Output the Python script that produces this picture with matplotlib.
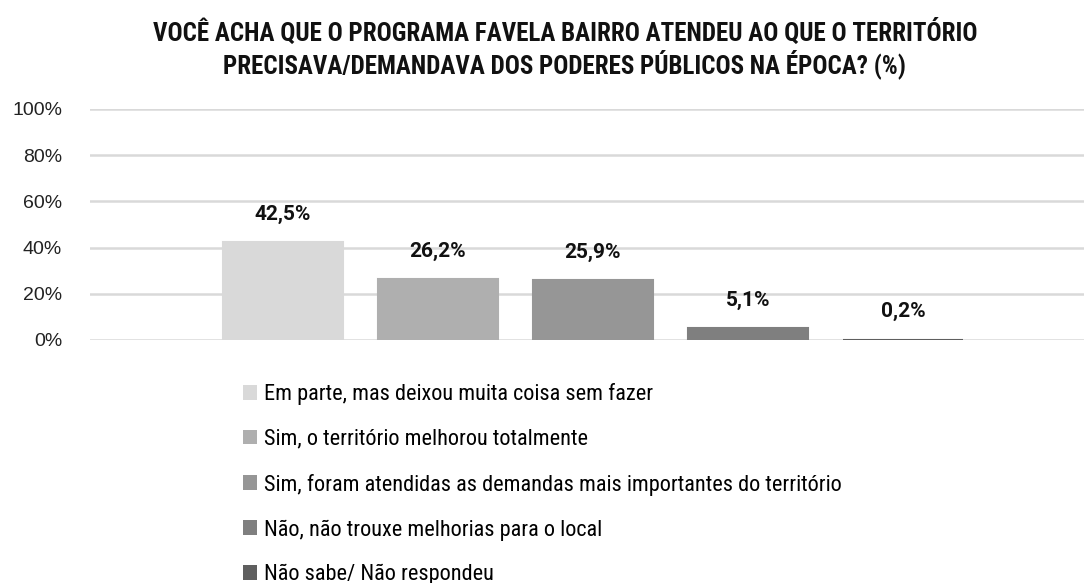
import matplotlib
matplotlib.use("Agg")
import matplotlib.pyplot as plt
from matplotlib import font_manager
from matplotlib.patches import Patch

# dados
categorias = [
    "Em parte, mas deixou muita coisa sem fazer",
    "Sim, o território melhorou totalmente",
    "Sim, foram atendidas as demandas mais importantes do território",
    "Não, não trouxe melhorias para o local",
    "Não sabe/ Não respondeu",
]
valores = [42.5, 26.2, 25.9, 5.1, 0.2]
rotulos = ["42,5%", "26,2%", "25,9%", "5,1%", "0,2%"]
yticks = [0, 20, 40, 60, 80, 100]
cores = ["#d9d9d9", "#afafaf", "#969696", "#7f7f7f", "#5f5f5f"]

titulo = ("VOCÊ ACHA QUE O PROGRAMA FAVELA BAIRRO ATENDEU AO QUE O TERRITÓRIO\n"
          "PRECISAVA/DEMANDAVA DOS PODERES PÚBLICOS NA ÉPOCA? (%)")

disp = {f.name for f in font_manager.fontManager.ttflist}
def escolhe(nomes):
    for n in nomes:
        if n in disp:
            return n
    return "DejaVu Sans"

estreita = escolhe(["Liberation Sans Narrow", "Roboto Condensed", "Arial Narrow", "Roboto"])
normal = escolhe(["Liberation Sans", "Arial", "Roboto"])
plt.rcParams["font.family"] = [estreita, "DejaVu Sans"]

fig = plt.figure(figsize=(10.84, 5.83), dpi=100)
ax = fig.add_axes([90 / 1084, 1 - 340 / 583, (1084 - 90) / 1084, 231 / 583])

x = list(range(len(valores)))
ax.bar(x, valores, width=0.78, color=cores, edgecolor=cores, linewidth=1.5, zorder=3)
for xi, v, r in zip(x, valores, rotulos):
    ax.annotate(r, (xi, v), xytext=(0, 13), textcoords="offset points",
                ha="center", va="bottom", fontsize=15, fontweight="bold",
                color="#111111", family=["Roboto", "DejaVu Sans"])

ax.set_xlim(-1.245, 5.168)
ax.set_ylim(0, 100)
ax.set_yticks(yticks)
ax.set_yticklabels([f"{t}%" for t in yticks], fontsize=14, color="#222222",
                   family=[normal, "DejaVu Sans"])
ax.set_xticks([])
ax.yaxis.grid(True, color="#d9d9d9", linewidth=1.8)
ax.set_axisbelow(True)
ax.tick_params(axis="y", length=0, pad=20)
for s in ax.spines.values():
    s.set_visible(False)

fig.text(0.521, 1 - 49 / 583, titulo, ha="center", va="center", fontsize=18,
         fontweight="bold", linespacing=1.15, color="#111111")

handles = [Patch(facecolor=c, edgecolor="none") for c in cores]
fig.legend(handles, categorias, loc="upper left", bbox_to_anchor=(243 / 1084, 1 - 383 / 583),
           frameon=False, fontsize=16, handlelength=0.65, handleheight=0.65,
           handletextpad=0.3, labelspacing=1.07, borderaxespad=0, borderpad=0)

fig.savefig("out.png", dpi=100)
